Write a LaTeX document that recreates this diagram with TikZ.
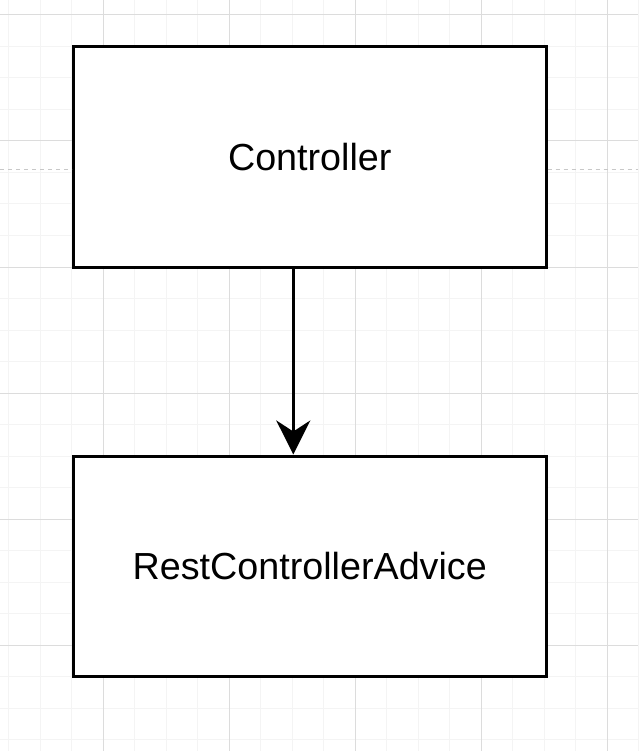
\documentclass[tikz,border=0pt]{standalone}
\usepackage{fontspec}
\setmainfont{Liberation Sans}
\usetikzlibrary{arrows.meta}
\definecolor{gridminor}{HTML}{F4F4F4}
\definecolor{gridmajor}{HTML}{DCDCDC}
\definecolor{dashgray}{HTML}{C8C8C8}
\tikzset{
  box/.style={draw=black, line width=3pt, fill=white, minimum width=472.5pt, minimum height=220.5pt, inner sep=0pt, font=\fontsize{37.7pt}{44pt}\selectfont},
  flow/.style={line width=3pt, -{Stealth[length=34pt, width=34pt, inset=11pt]}},
  guide/.style={draw=dashgray, line width=1pt, dash pattern=on 4pt off 4pt}
}
\begin{document}
\begin{tikzpicture}[x=1pt, y=-1pt]
\useasboundingbox (0,0) rectangle (638,751);
\fill[white] (0,0) rectangle (638,751);
% minor grid
\foreach \i in {0,...,20} {
  \draw[gridminor, line width=1pt] ({8.5+31.5*\i},0) -- ({8.5+31.5*\i},751);
}
\foreach \i in {0,...,24} {
  \draw[gridminor, line width=1pt] (0,{15+31.5*\i}) -- (638,{15+31.5*\i});
}
% major grid
\foreach \x in {103,229,355,481,607} {
  \draw[gridmajor, line width=1pt] (\x,0) -- (\x,751);
}
\foreach \y in {15,141,267,393,519,645} {
  \draw[gridmajor, line width=1pt] (0,\y) -- (638,\y);
}
\node[box] (ctrl) at (309.75,156.75) {Controller};
\node[box] (advice) at (309.75,566.25) {RestControllerAdvice};
\coordinate (dl) at (0,170);
\coordinate (dr) at (638,170);
\draw[guide] (dl) -- (dl -| ctrl.west);
\draw[guide] (ctrl.east |- dr) -- (dr);
\coordinate (ax) at (293.3,0);
\draw[flow] (ctrl.south -| ax) -- (advice.north -| ax);
\end{tikzpicture}
\end{document}
